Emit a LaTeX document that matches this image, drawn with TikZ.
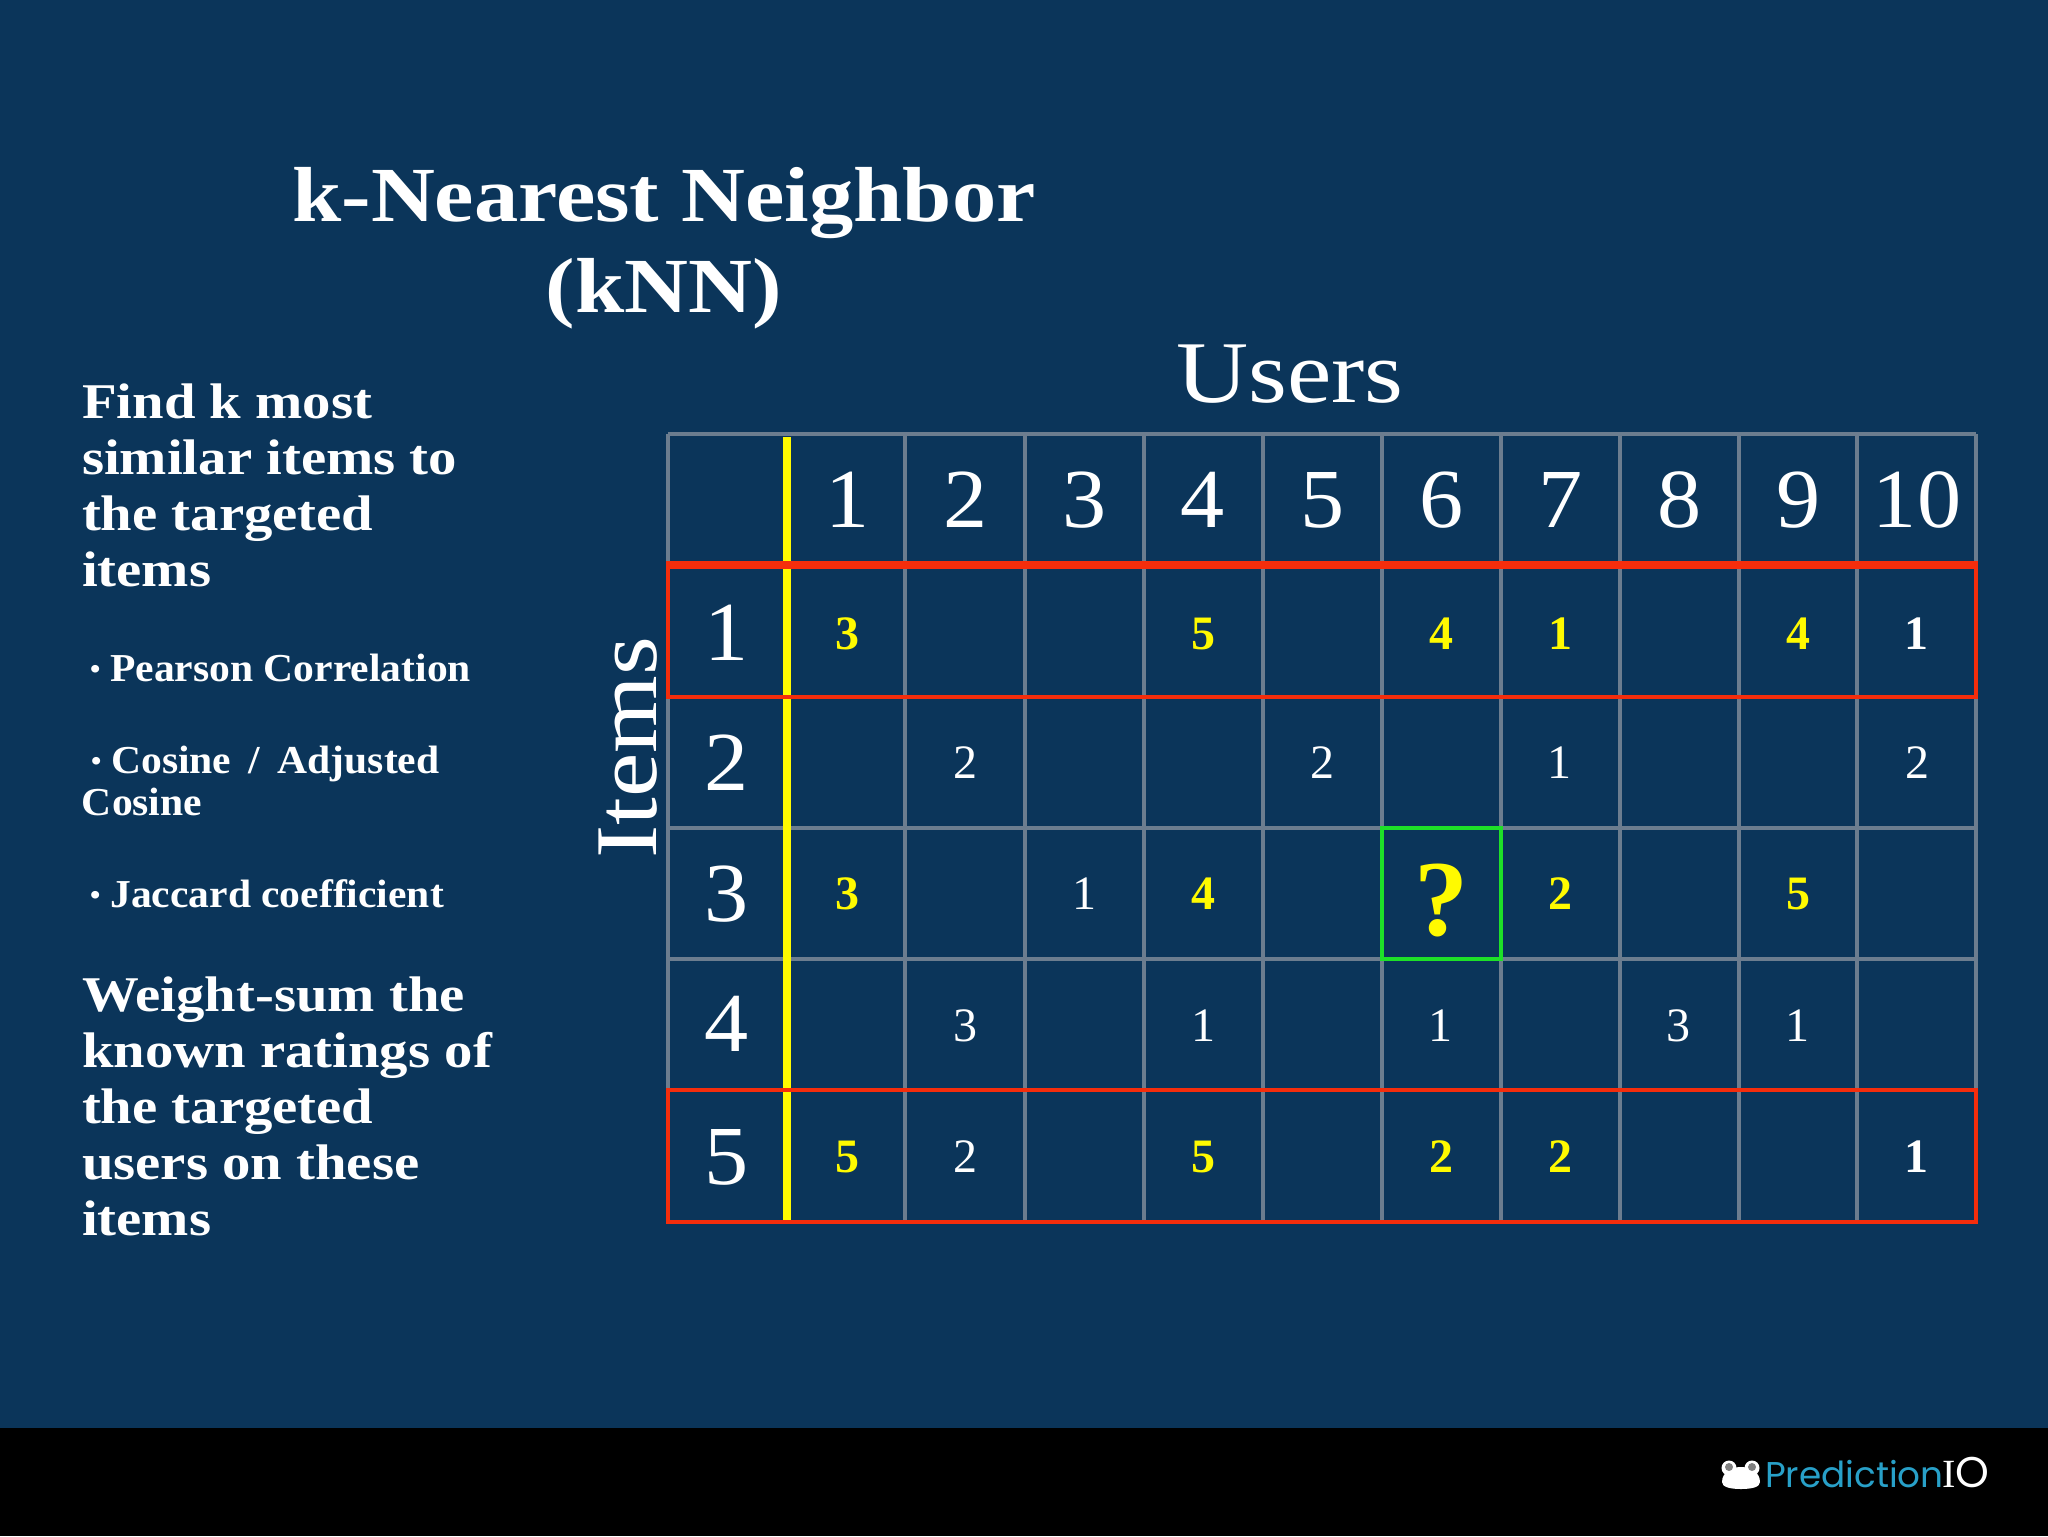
\documentclass[tikz,border=0pt]{standalone}
\usepackage{fontspec}
\setmainfont{Liberation Serif}
\newfontfamily\logofont{Poppins}
\newfontfamily\widebold[FakeStretch=1.135]{Liberation Serif Bold}
\newfontfamily\subbold[FakeStretch=1.05]{Liberation Serif Bold}
\newfontfamily\widereg[FakeStretch=1.135]{Liberation Serif}
\newfontfamily\hdrreg[FakeStretch=1.05]{Liberation Serif}
\definecolor{bgblue}{RGB}{11,53,90}
\definecolor{gridgray}{RGB}{108,125,143}
\definecolor{hlred}{RGB}{245,45,12}
\definecolor{hlyellow}{RGB}{255,250,0}
\definecolor{hlgreen}{RGB}{30,225,40}
\definecolor{logoblue}{RGB}{40,160,200}
\newcommand{\fs}[1]{\fontsize{#1}{#1}\selectfont}
\newcommand{\smallbul}{{\fs{14}\raisebox{1.5pt}{\textbullet}}\hspace{5pt}}
\tikzset{
  txt/.style={text=white,inner sep=0pt,outer sep=0pt},
  hdr/.style={txt,font=\hdrreg\fs{42}},
  val/.style={txt,font=\fs{24}},
  yval/.style={txt,text=hlyellow,font=\fs{24}\bfseries},
  wval/.style={txt,font=\fs{24}\bfseries},
  para/.style={txt,anchor=north west,align=left,font=\widebold\fs{25},execute at begin node={\setlength{\baselineskip}{28pt}}},
  sub/.style={txt,anchor=north west,align=left,font=\subbold\fs{19.8},execute at begin node={\setlength{\baselineskip}{21pt}}},
  gridline/.style={draw=gridgray,line width=2pt},
}
\begin{document}
\begin{tikzpicture}[x=0.5pt,y=-0.5pt]
\useasboundingbox (0,0) rectangle (2048,1536);
\fill[bgblue] (0,0) rectangle (2048,1536);
\fill[black] (0,1428) rectangle (2048,1536);
% grid
\foreach \x in {668,905,1025,1144,1263,1382,1501,1620,1739,1857,1976} \draw[gridline] (\x,434) -- (\x,1222);
\foreach \y in {434,697,828,959} \draw[gridline] (668,\y) -- (1976,\y);
\draw[hlyellow,line width=4pt] (787,437) -- (787,1220);
\draw[hlred,line width=4pt] (666,565) -- (1978,565);
\draw[hlred,line width=2pt] (668,565) rectangle (1976,697);
\draw[hlred,line width=2pt] (668,1090) rectangle (1976,1222);
\draw[hlgreen,line width=2pt] (1382,828) rectangle (1501,959);
% title
\node[txt,font=\widebold\fs{39},align=center,execute at begin node={\setlength{\baselineskip}{45.5pt}}] (title) at (664,248) {k-Nearest Neighbor\\(kNN)};
\node[txt,font=\widereg\fs{44}] (users) at (1290,374) {Users};
\node[txt,font=\widereg\fs{44},rotate=90] (items) at (628,748) {Items};
% left text
\node[para] (p1) at (82,384) {Find k most\\similar items to\\the targeted\\items};
\node[sub] (s1) at (90,654) {\smallbul Pearson Correlation};
\node[sub] (s2) at (82,746) {\hspace*{4.5pt}\smallbul Cosine\hspace{3.5pt} /\hspace{3.5pt} Adjusted\\Cosine};
\node[sub] (s3) at (90,880) {\smallbul Jaccard coefficient};
\node[para] (p2) at (82,977) {Weight-sum the\\known ratings of\\the targeted\\users on these\\items};
% headers
\foreach \t/\x in {1/848,2/966,3/1085,4/1203,5/1323,6/1442,7/1561,8/1680,9/1799,10/1917}
  \node[hdr] (h\t) at (\x,500) {\t};
\foreach \t/\y in {1/633,2/763,3/894,4/1024,5/1157}
  \node[hdr] (r\t) at (727,\y) {\t};
% row 1
\foreach \v/\x/\n in {3/847/a,5/1203/b,4/1441/c,1/1560/d,4/1798/e}
  \node[yval] (v1\n) at (\x,634) {\v};
\node[wval] (v1f) at (1916,634) {1};
% row 2
\foreach \v/\x/\n in {2/965/a,2/1322/b,1/1559/c,2/1917/d}
  \node[val] (v2\n) at (\x,763) {\v};
% row 3
\foreach \v/\x/\n in {3/847/a,4/1203/b,2/1560/c,5/1798/d}
  \node[yval] (v3\n) at (\x,894) {\v};
\node[val] (v3e) at (1084,894) {1};
\node[txt,text=hlyellow,font=\fs{54}\bfseries] (q) at (1441,900) {?};
% row 4
\foreach \v/\x/\n in {3/965/a,1/1203/b,1/1440/c,3/1678/d,1/1797/e}
  \node[val] (v4\n) at (\x,1026) {\v};
% row 5
\foreach \v/\x/\n in {5/847/a,5/1203/b,2/1441/c,2/1560/d}
  \node[yval] (v5\n) at (\x,1157) {\v};
\node[val] (v5e) at (965,1157) {2};
\node[wval] (v5f) at (1916,1157) {1};
% logo
\fill[white] (1722,1482) .. controls (1722,1472) and (1732,1467) .. (1741,1467) .. controls (1750,1467) and (1760,1472) .. (1760,1482) .. controls (1760,1487) and (1752,1489) .. (1741,1489) .. controls (1730,1489) and (1722,1487) .. (1722,1482) -- cycle;
\fill[white] (1729,1468) circle[radius=7.5];
\fill[white] (1752,1468) circle[radius=7.5];
\fill[gray] (1729,1467) circle[radius=4];
\fill[gray] (1752,1467) circle[radius=4];
\node[txt,anchor=base west,font=\logofont\fs{17.9},text=logoblue] (logoa) at (1765,1487) {Prediction};
\node[txt,anchor=base west,font=\fs{20},text=white] (logob) at (1942,1487) {I{\logofont\fs{21.5}O}};
\end{tikzpicture}
\end{document}
